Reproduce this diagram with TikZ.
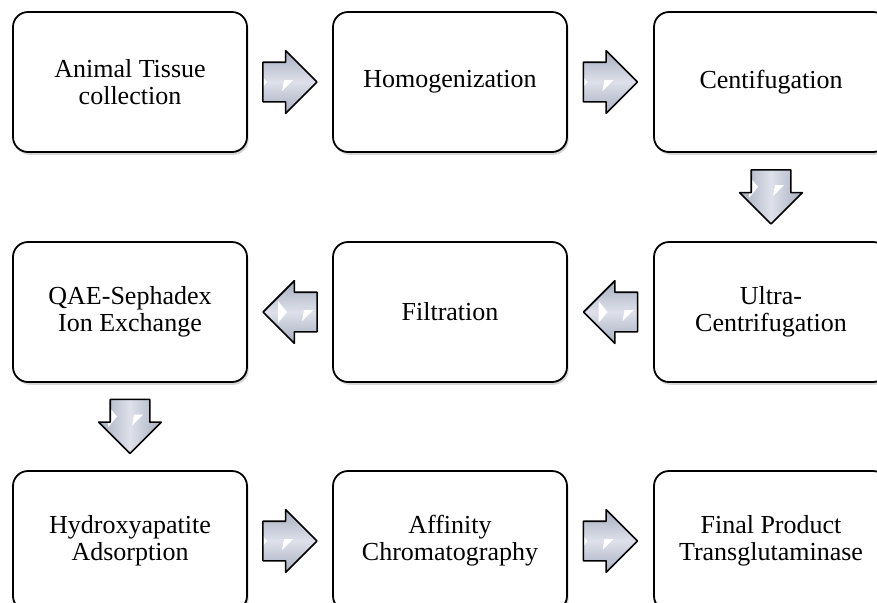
\documentclass[tikz,border=0pt]{standalone}
\usepackage{fontspec}
\setmainfont{Liberation Serif}
\usetikzlibrary{calc, shapes.arrows, shadows}
\definecolor{arrowedge}{RGB}{168,174,192}
\definecolor{arrowmid}{RGB}{222,225,234}
\definecolor{shadowgray}{RGB}{120,120,120}

\tikzset{
  stepbox/.style={draw=black, line width=0.9pt, fill=white, rounded corners=7.5pt,
    minimum width=117pt, minimum height=70pt, align=center, inner sep=2pt,
    drop shadow={shadow xshift=0.8pt, shadow yshift=-1.4pt, opacity=0.3, fill=shadowgray}},
  glint/.style={path picture={
    \fill[white, shift={(path picture bounding box.center)}, rotate=#1]
      (-11pt,5.5pt) -- (-6.5pt,0pt) -- (-11pt,-5.5pt) -- cycle
      (1pt,-4.5pt) -- (6.5pt,1pt) -- (2pt,1pt) -- cycle;}},
  flowarrow/.style={single arrow, draw=black, line width=0.8pt, line join=round,
    minimum height=27pt, single arrow head extend=5.75pt,
    text height=0pt, text depth=0pt},
  rightarrow/.style={flowarrow, shape border rotate=0, inner xsep=0pt, inner ysep=9.5pt,
    xshift=-5pt, top color=arrowedge, bottom color=arrowedge, middle color=arrowmid,
    glint=0},
  leftarrow/.style={flowarrow, shape border rotate=180, inner xsep=0pt, inner ysep=9.5pt,
    xshift=5pt, top color=arrowedge, bottom color=arrowedge, middle color=arrowmid,
    glint=180},
  downarrow/.style={flowarrow, shape border rotate=270, inner xsep=9.5pt, inner ysep=0pt,
    yshift=5pt, left color=arrowedge, right color=arrowedge, middle color=arrowmid,
    glint=-90},
}

\begin{document}
\begin{tikzpicture}[x=0.5pt, y=-0.5pt, font=\fontsize{13}{13.5}\selectfont]

  \useasboundingbox (0,0) rectangle (877,602);

  % Top row
  \node[stepbox] (tissue) at (130,82)  {Animal Tissue\\collection};
  \node[stepbox] (homog)  at (450,82)  {Homogenization};
  \node[stepbox] (centri) at (771,82)  {Centifugation};

  % Middle row
  \node[stepbox] (ultra)  at (771,312) {Ultra-\\Centrifugation};
  \node[stepbox] (filtr)  at (450,312) {Filtration};
  \node[stepbox] (qae)    at (130,312) {QAE-Sephadex\\Ion Exchange};

  % Bottom row
  \node[stepbox] (hydro)  at (130,541) {Hydroxyapatite\\Adsorption};
  \node[stepbox] (affin)  at (450,541) {Affinity\\Chromatography};
  \node[stepbox] (final)  at (771,541) {Final Product\\Transglutaminase};

  % Block arrows between the steps
  \node[rightarrow] (a1) at ($(tissue.east)!0.5!(homog.west)$) {};
  \node[rightarrow] (a2) at ($(homog.east)!0.5!(centri.west)$) {};
  \node[downarrow]  (a3) at ($(centri.south)!0.5!(ultra.north)$) {};
  \node[leftarrow]  (a4) at ($(ultra.west)!0.5!(filtr.east)$) {};
  \node[leftarrow]  (a5) at ($(filtr.west)!0.5!(qae.east)$) {};
  \node[downarrow]  (a6) at ($(qae.south)!0.5!(hydro.north)$) {};
  \node[rightarrow] (a7) at ($(hydro.east)!0.5!(affin.west)$) {};
  \node[rightarrow] (a8) at ($(affin.east)!0.5!(final.west)$) {};

\end{tikzpicture}
\end{document}
